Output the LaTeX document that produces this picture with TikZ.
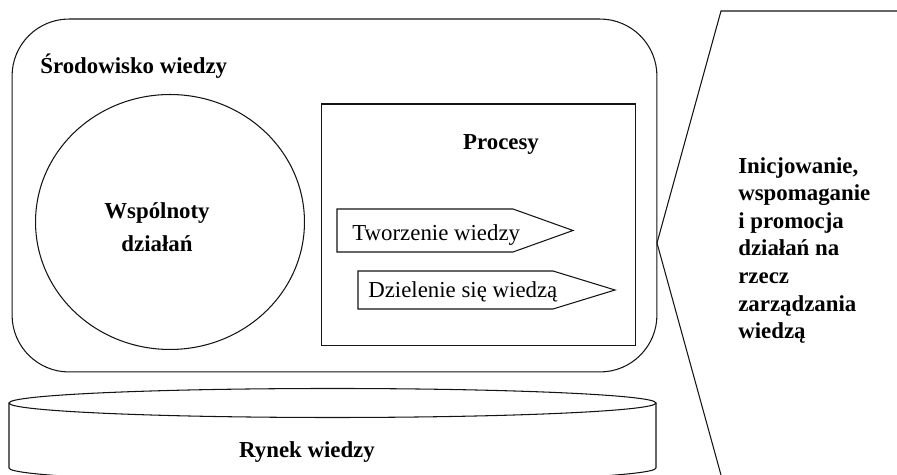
\documentclass[tikz,border=0pt]{standalone}
\usepackage{fontspec}
\setmainfont{Liberation Serif}
\usepackage{tikz}
\usetikzlibrary{positioning,shapes.geometric}
\definecolor{lineInk}{RGB}{20,20,20}
\tikzset{
  shapeline/.style={draw=lineInk, line width=0.6pt, line join=miter},
  envbox/.style={shapeline, rectangle, rounded corners=1.14cm, minimum width=12.9cm, minimum height=7.06cm},
  commbox/.style={shapeline, ellipse, minimum width=5.38cm, minimum height=5.1cm},
  procbox/.style={shapeline, rectangle, minimum width=6.3cm, minimum height=4.84cm},
  headtext/.style={font=\fontsize{13}{15.7}\selectfont\bfseries, inner sep=0pt},
  plaintext/.style={font=\fontsize{13}{15.7}\selectfont, inner sep=0pt}
}

\begin{document}
\begin{tikzpicture}[x=0.02cm, y=-0.02cm]
        \useasboundingbox (0,0) rectangle (897,475);
        % knowledge environment
        \node[envbox] (env) at (334.5,195.5) {};
        \node[headtext, anchor=base west] (envtitle) at (40,74) {Środowisko wiedzy};
        \node[commbox] (comm) at (170,222) {};
        \node[headtext, align=center, anchor=north, font=\fontsize{13}{18.7}\selectfont\bfseries] (commtext) at (157,202) {Wspólnoty\\działań};
        \node[procbox] (proc) at (478.5,225) {};
        \node[headtext, anchor=base] (proctitle) at (501,150) {Procesy};
        % process tags
        \draw[shapeline] (337,209) -- (513,209) -- (573,230.5) -- (513,252) -- (337,252) -- cycle;
        \node[plaintext, anchor=base west] (create) at (352,241) {Tworzenie wiedzy};
        \draw[shapeline] (358,271) -- (553,271) -- (615,290) -- (553,309) -- (358,309) -- cycle;
        \node[plaintext, anchor=base west] (share) at (368,298) {Dzielenie się wiedzą};
        % knowledge market
        \draw[shapeline] (332.5,403) ellipse [x radius=323.5, y radius=14.5];
        \draw[shapeline] (9,403) -- (9,468) arc[start angle=180, end angle=0, x radius=323.5, y radius=14.5] -- (656,403);
        \node[headtext, anchor=base] (market) at (307,458) {Rynek wiedzy};
        % callout
        \coordinate (calltop) at (897,11);
        \coordinate (apex) at (657,243);
        \draw[shapeline] (calltop) -- (721,11) -- (apex) -- (721,475);
        \node[headtext, align=left, anchor=north west] (calltext) at (738,157) {Inicjowanie,\\wspomaganie\\i promocja\\działań na\\rzecz\\zarządzania\\wiedzą};
      \end{tikzpicture}
\end{document}
